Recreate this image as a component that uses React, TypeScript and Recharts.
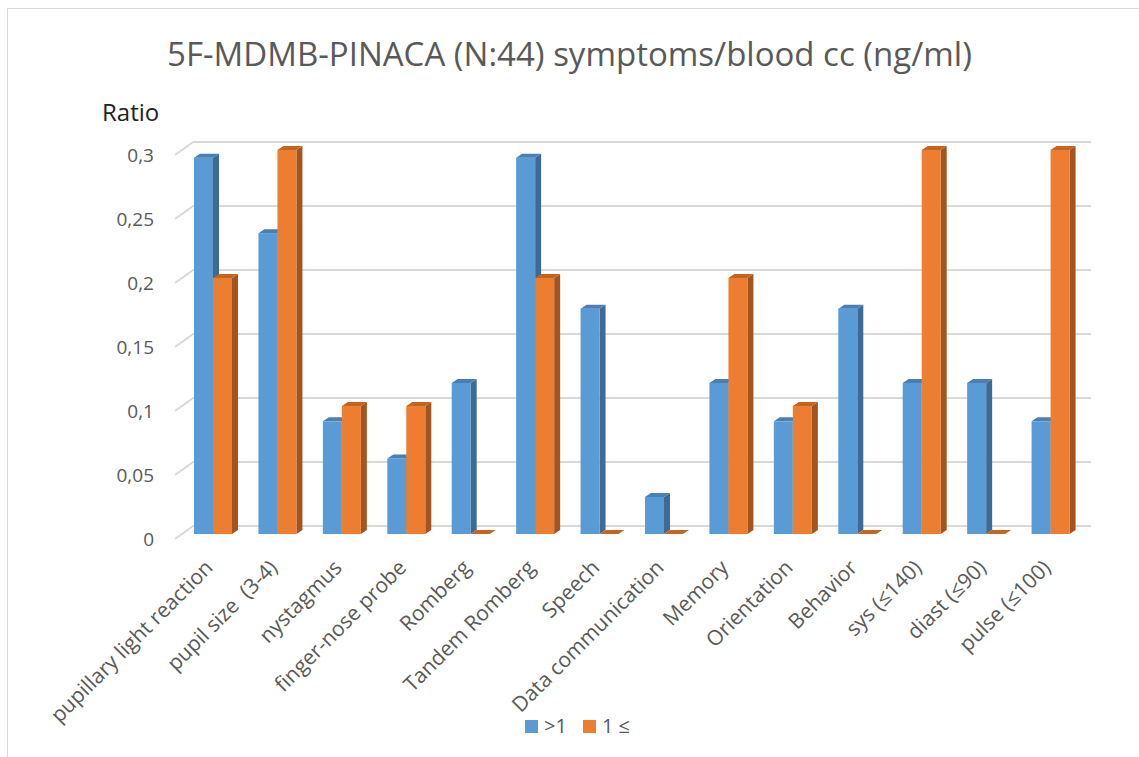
import React from 'react'
import { BarChart, Bar, XAxis, YAxis, CartesianGrid } from 'recharts'

const categories = [
  'pupillary light reaction',
  'pupil size  (3-4)',
  'nystagmus',
  'finger-nose probe',
  'Romberg',
  'Tandem Romberg',
  'Speech',
  'Data communication',
  'Memory',
  'Orientation',
  'Behavior',
  'sys (≤140)',
  'diast (≤90)',
  'pulse (≤100)',
]
const overOne = [0.294, 0.235, 0.088, 0.059, 0.118, 0.294, 0.176, 0.029, 0.118, 0.088, 0.176, 0.118, 0.118, 0.088]
const oneOrLess = [0.2, 0.3, 0.1, 0.1, 0, 0.2, 0, 0, 0.2, 0.1, 0, 0.3, 0, 0.3]
const yTicks = [0, 0.05, 0.1, 0.15, 0.2, 0.25, 0.3]

const data = categories.map((name, i) => ({ name, over: overOne[i], under: oneOrLess[i] }))

const FONT = '"Open Sans", sans-serif'
const DX = 6
const DY = 4

const make3D = (front: string, side: string, top: string) => (props: any) => {
  const { x, y, width, height } = props
  const b = y + height
  return (
    <g>
      <polygon points={`${x + width},${y} ${x + width + DX},${y - DY} ${x + width + DX},${b - DY} ${x + width},${b}`} fill={side} />
      <rect x={x} y={y} width={width} height={Math.max(height, 0)} fill={front} />
      <polygon points={`${x},${y} ${x + DX},${y - DY} ${x + width + DX},${y - DY} ${x + width},${y}`} fill={top} />
    </g>
  )
}

const gridLine = (props: any) => {
  const { x1, y1, x2 } = props
  return (
    <g key={props.key}>
      <line x1={x1 + 12} y1={y1 - 8} x2={x2 + 8} y2={y1 - 8} stroke="#D9D9D9" strokeWidth={2} />
      <line x1={x1 - 6} y1={y1 + 5} x2={x1 + 12} y2={y1 - 8} stroke="#D9D9D9" strokeWidth={2} />
    </g>
  )
}

const YTick = ({ y, payload }: any) => (
  <text x={154} y={y + 5} dy="0.35em" textAnchor="end" fontSize={19} fontFamily={FONT} fill="#595959">
    {String(payload.value).replace('.', ',')}
  </text>
)

const XTick = ({ x, y, payload }: any) => (
  <g transform={`translate(${x + 1},${y + 27})`}>
    <text x={0} y={0} textAnchor="end" transform="rotate(-45)" fontSize={21} fontFamily={FONT} fill="#595959" style={{ whiteSpace: 'pre' }}>
      {payload.value}
    </text>
  </g>
)

export default function App() {
  return (
    <div style={{ position: 'absolute', left: 0, top: 0, width: 1139, height: 757, background: '#fff', fontFamily: FONT }}>
      <div style={{ position: 'absolute', left: 7, top: 8, width: 1200, height: 800, border: '1.5px solid #D9D9D9' }} />
      <div style={{ position: 'absolute', left: 0, top: 33, width: 1139, textAlign: 'center', fontSize: 33, color: '#595959', lineHeight: '42px' }}>
        5F-MDMB-PINACA (N:44) symptoms/blood cc (ng/ml)
      </div>
      <div style={{ position: 'absolute', left: 102, top: 96, fontSize: 24, color: '#222', lineHeight: '32px' }}>Ratio</div>
      <div style={{ position: 'absolute', top: 0, left: 0 }}>
        <BarChart width={1139} height={757} data={data} margin={{ top: 150, right: 56, left: 0, bottom: 0 }} barGap={0} barSize={19}>
          <CartesianGrid vertical={false} horizontal={gridLine} />
          <XAxis dataKey="name" height={223} interval={0} tickLine={false} axisLine={false} tick={<XTick />} />
          <YAxis width={181} domain={[0, 0.3]} ticks={yTicks} tickLine={false} axisLine={false} tick={<YTick />} />
          <Bar dataKey="over" isAnimationActive={false} shape={make3D('#5B9BD5', '#3E6B94', '#4A7FB3')} />
          <Bar dataKey="under" isAnimationActive={false} shape={make3D('#ED7D31', '#A4541E', '#C4661F')} />
        </BarChart>
      </div>
      <div style={{ position: 'absolute', top: 713, left: 525, display: 'flex', alignItems: 'center', fontSize: 20, color: '#595959', lineHeight: '26px' }}>
        <span style={{ width: 13, height: 13, background: '#5B9BD5', display: 'inline-block', marginRight: 6 }} />
        <span style={{ marginRight: 16 }}>&gt;1</span>
        <span style={{ width: 13, height: 13, background: '#ED7D31', display: 'inline-block', marginRight: 6 }} />
        <span>1 ≤</span>
      </div>
    </div>
  )
}
